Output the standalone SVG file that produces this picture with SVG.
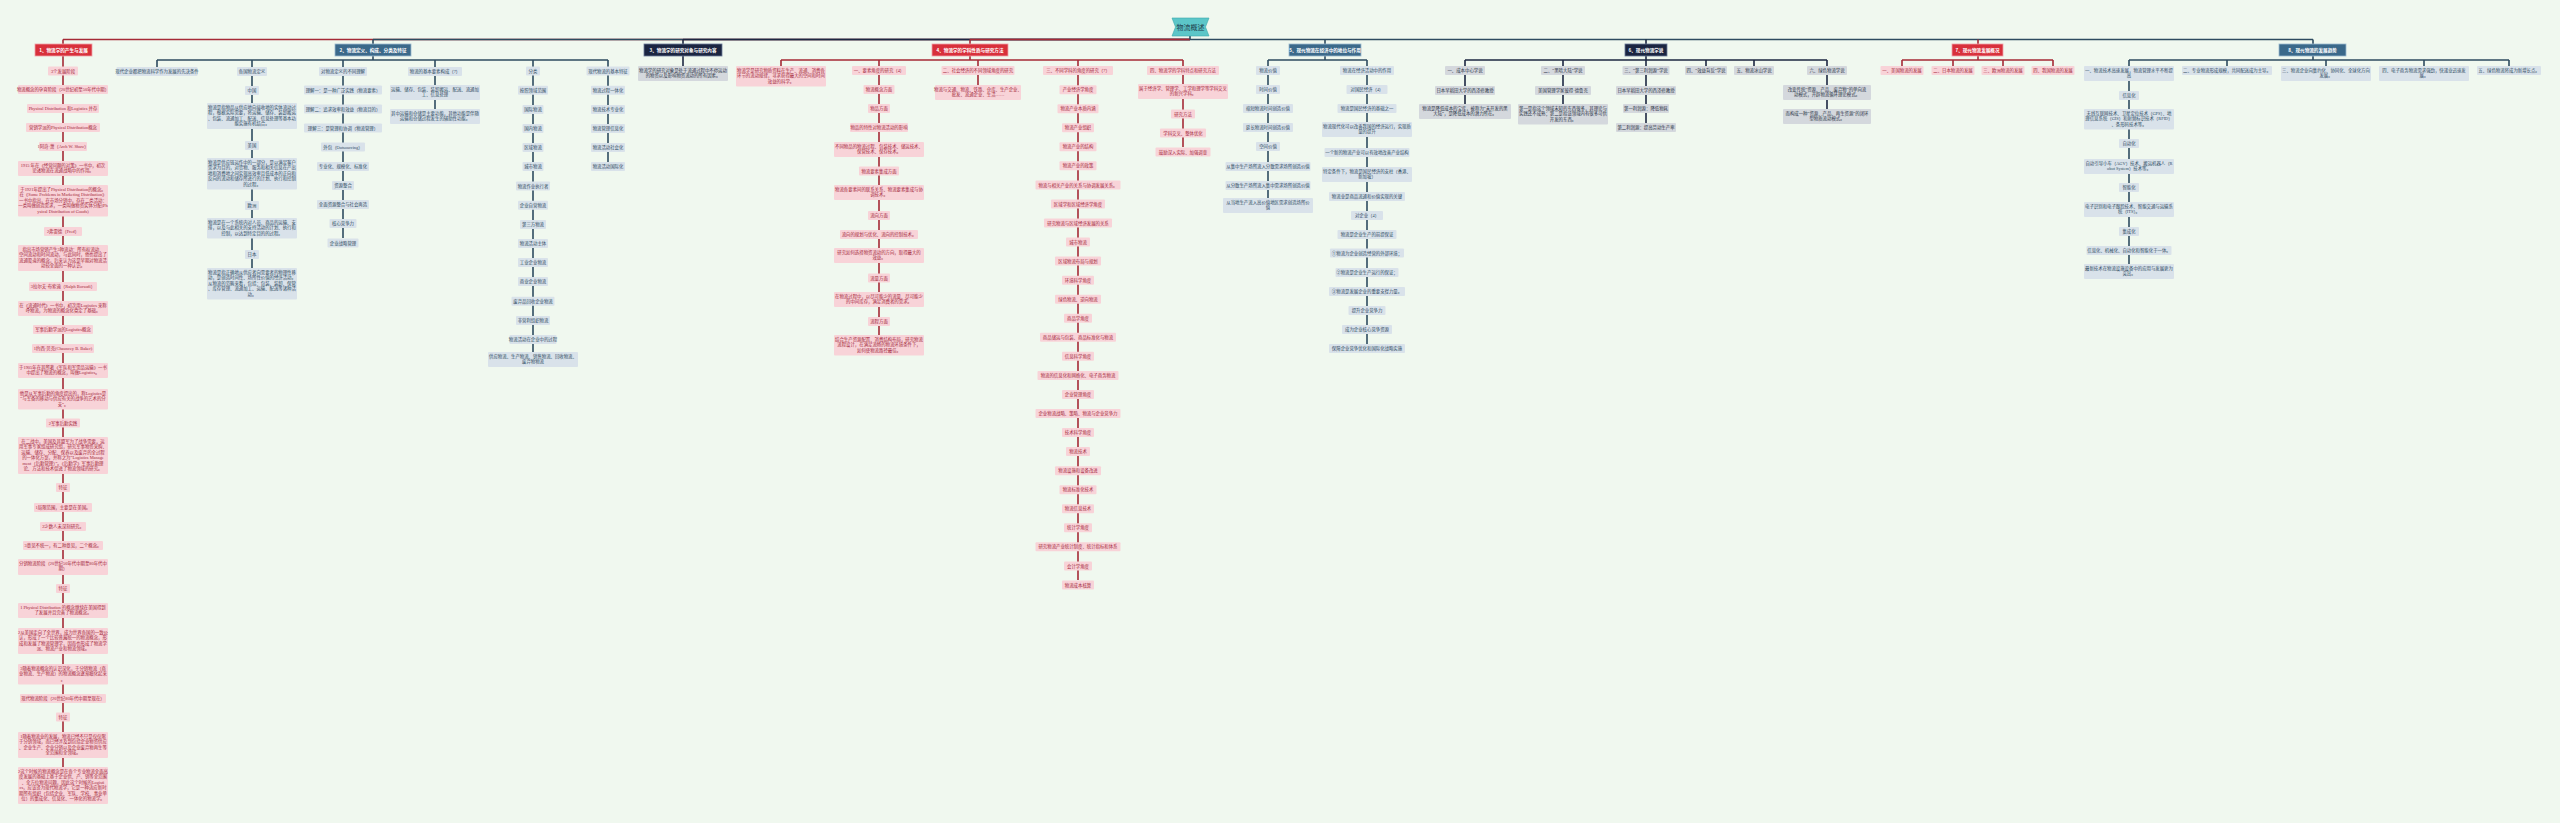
<svg xmlns="http://www.w3.org/2000/svg" width="2560" height="823" viewBox="0 0 2560 823">
<style>
.n text{font-family:"Liberation Serif","Noto Sans CJK SC",serif;font-size:4.4px;text-anchor:middle}
.n rect{rx:1}
.p rect{fill:#f8d3d8}.p text{fill:#a3273a}
.s rect{fill:#d9e2ea}.s text{fill:#2d4a5f}
.g rect{fill:#d4d8dd}.g text{fill:#2a3345}
.h text{fill:#fff;font-weight:bold;font-size:4.6px;font-family:"Noto Sans CJK SC",sans-serif;text-anchor:middle}
.h rect{stroke-width:.8}
.hr rect{fill:#d8303b;stroke:#f0a0a8}
.hs rect{fill:#3b698a;stroke:#9cbad0}
.hn rect{fill:#1b2541;stroke:#6b7a99}
.c path{fill:none;stroke-width:1.6}
.cr{stroke:#a52a36}.cs{stroke:#2e4b60}.cn{stroke:#1d2742}
</style>
<rect width="2560" height="823" fill="#f0f8ef"/>
<g id="connectors" class="c">
<path class="cr" d="M63 39.5H1190"/>
<path class="cs" d="M373 39.5H1190"/>
<path class="cn" d="M683 39.5H1190"/>
<path class="cr" d="M970 39.5H1190"/>
<path class="cs" d="M1190 39.5H2313"/>
<path class="cs" d="M1190 36V39.5"/>
<path class="cr" d="M63 39.5V770M970 39.5V60M781 60H1183M781 60V66M879 60V335M978 60V85M1078 60V580M1183 60V147"/>
<path class="cs" d="M373 39.5V60M157 60H608M157 60V67M252 60V268M343 60V238M435 60V109M533 60V352M608 60V162"/>
<path class="cn" d="M683 39.5V66"/>
<path class="cs" d="M1325 39.5V60M1268 60H1367M1268 60V198M1367 60V344"/>
<path class="cn" d="M1646 39.5V123M1465 60H1827M1465 60V104M1563 60V104M1706 60V66M1754 60V66M1827 60V109"/>
<path class="cr" d="M1978 39.5V60M1902 60H2053M1902 60V66M1953 60V66M2003 60V66M2053 60V66"/>
<path class="cs" d="M2313 39.5V60M2129 60H2509M2129 60V264M2227 60V66M2326 60V66M2424 60V66M2509 60V66"/>
</g>
<g id="root"><polygon points="1172,18 1209,18 1205.5,27 1209,36 1172,36 1175.5,27" fill="#5cc6c8" stroke="#3aa9ab" stroke-width=".6"/><text x="1190.5" y="29.6" font-family="Noto Sans CJK SC,sans-serif" font-size="7" fill="#1e3a4a" text-anchor="middle">物流概述</text></g>

<g id="b1" class="h hr"><rect x="35" y="44" width="57" height="12"/><text x="63.5" y="51.7">1、物流学的产生与发展</text></g>
<g id="b1n1" class="n p"><rect x="48" y="66.5" width="30" height="9"/><text x="63" y="72.6">3个发展阶段</text></g>
<g id="b1n2" class="n p"><rect x="18" y="85" width="90" height="9"/><text x="63" y="91.1">物流概念的孕育阶段（20世纪初至50年代中期）</text></g>
<g id="b1n3" class="n p"><rect x="27" y="104" width="72" height="9"/><text x="63" y="110.1">Physical Distribution 和Logistics 并存</text></g>
<g id="b1n4" class="n p"><rect x="26" y="123" width="74" height="9"/><text x="63" y="129.1">营销学派的Physical Distribution概念</text></g>
<g id="b1n5" class="n p"><rect x="39" y="142" width="48" height="9"/><text x="63" y="148.1">1阿奇·萧（Arch W. Shaw）</text></g>
<g id="b1n6" class="n p"><rect x="18" y="161" width="90" height="15"/><text x="63" y="166.9">1915 年在《经营问题的对策》一书中，初次<tspan x="63" dy="5.5">论述物流在流通战略中的作用。</tspan></text></g>
<g id="b1n7" class="n p"><rect x="18" y="185" width="90" height="31.5"/><text x="63" y="190.9">于1921年提出了Physical Distribution的概念。<tspan x="63" dy="5.5">在《Some Problems in Marketing Distribution》</tspan><tspan x="63" dy="5.5">一书中指出，在市场分销中，存在二类活动：</tspan><tspan x="63" dy="5.5">一类叫做创造需求，一类叫做物资实体分配(Ph</tspan><tspan x="63" dy="5.5">ysical Distribution of Goods)</tspan></text></g>
<g id="b1n8" class="n p"><rect x="44" y="227" width="38" height="9"/><text x="63" y="233.1">2弗雷德（Fred）</text></g>
<g id="b1n9" class="n p"><rect x="18" y="245" width="90" height="26"/><text x="63" y="250.9">指出市场营销产生3种流动：所有权流动、<tspan x="63" dy="5.5">空间流动和时间流动，与此同时，他也提出了</tspan><tspan x="63" dy="5.5">流通渠道的概念，后来认为这是早期对物流活</tspan><tspan x="63" dy="5.5">动较全面的一种认识。</tspan></text></g>
<g id="b1n10" class="n p"><rect x="29" y="282" width="68" height="9"/><text x="63" y="288.1">3拉尔夫·布索迪（Ralph Borsodi）</text></g>
<g id="b1n11" class="n p"><rect x="18" y="301" width="90" height="15"/><text x="63" y="306.9">在《流通时代》一书中，初次用Logistics 来称<tspan x="63" dy="5.5">呼物流，为物流的概念化奠定了基础。</tspan></text></g>
<g id="b1n12" class="n p"><rect x="33" y="325" width="60" height="9"/><text x="63" y="331.1">军事后勤学派的Logistics概念</text></g>
<g id="b1n13" class="n p"><rect x="32" y="344" width="62" height="9"/><text x="63" y="350.1">1约西·贝克(Chauncey B. Baker)</text></g>
<g id="b1n14" class="n p"><rect x="18" y="363" width="90" height="15"/><text x="63" y="368.9">于1905年在其所著《军队和军需品运输》一书<tspan x="63" dy="5.5">中提出了物流的概念，叫做Logistics。</tspan></text></g>
<g id="b1n15" class="n p"><rect x="18" y="389" width="90" height="20.5"/><text x="63" y="394.9">他是从军事后勤的角度提出的，称Logistics是<tspan x="63" dy="5.5">“与军备的移动与供应有关的战争的艺术的分</tspan><tspan x="63" dy="5.5">支”。</tspan></text></g>
<g id="b1n16" class="n p"><rect x="46" y="418.5" width="34" height="9"/><text x="63" y="424.6">2军事后勤实践</text></g>
<g id="b1n17" class="n p"><rect x="18" y="437" width="90" height="37"/><text x="63" y="442.9">在二战中，美国及其盟军为了战争需要，运<tspan x="63" dy="5.5">用军事专家组成研究组，研究军事物资采购、</tspan><tspan x="63" dy="5.5">运输、储存、分配、保养以及废弃的全过程</tspan><tspan x="63" dy="5.5">的一体化方案，并称之为“Logistics Manage</tspan><tspan x="63" dy="5.5">ment（后勤管理）”。《后勤学》军事后勤理</tspan><tspan x="63" dy="5.5">论、方法和技术促进了物流领域的研究。</tspan></text></g>
<g id="b1n18" class="n p"><rect x="56" y="483" width="14" height="9"/><text x="63" y="489.1">特征</text></g>
<g id="b1n19" class="n p"><rect x="34" y="503" width="58" height="9"/><text x="63" y="509.1">1局限范围，主要是在美国。</text></g>
<g id="b1n20" class="n p"><rect x="40" y="522" width="46" height="9"/><text x="63" y="528.1">2少数人未深刻研究。</text></g>
<g id="b1n21" class="n p"><rect x="23" y="541" width="80" height="9"/><text x="63" y="547.1">3意见不统一，有二种意见，二个概念。</text></g>
<g id="b1n22" class="n p"><rect x="18" y="559" width="90" height="16"/><text x="63" y="564.9">分销物流阶段（20世纪50年代中期至80年代中<tspan x="63" dy="5.5">期）</tspan></text></g>
<g id="b1n23" class="n p"><rect x="56" y="584" width="14" height="9"/><text x="63" y="590.1">特征</text></g>
<g id="b1n24" class="n p"><rect x="18" y="603" width="90" height="15"/><text x="63" y="608.9">1 Physical Distribution 的概念继续在美国得到<tspan x="63" dy="5.5">了发展并且完善了物流概念。</tspan></text></g>
<g id="b1n25" class="n p"><rect x="18" y="628" width="90" height="26"/><text x="63" y="633.9">2从美国走向了全世界，成为世界各国的一致公<tspan x="63" dy="5.5">认，形成了一个比较普遍统一的物流概念，形</tspan><tspan x="63" dy="5.5">成和发展了物流管理学，因而也形成了物流学</tspan><tspan x="63" dy="5.5">派、物流产业和物流领域。</tspan></text></g>
<g id="b1n26" class="n p"><rect x="18" y="664" width="90" height="20.5"/><text x="63" y="669.9">3随着物流概念的认识深化，于分销物流（商<tspan x="63" dy="5.5">业物流、生产物流）的物流概念逐渐细化起来</tspan><tspan x="63" dy="5.5">。</tspan></text></g>
<g id="b1n27" class="n p"><rect x="20" y="694" width="86" height="9"/><text x="63" y="700.1">现代物流阶段（20世纪80年代中期至现在）</text></g>
<g id="b1n28" class="n p"><rect x="56" y="712.5" width="14" height="9"/><text x="63" y="718.6">特征</text></g>
<g id="b1n29" class="n p"><rect x="18" y="732" width="90" height="26"/><text x="63" y="737.9">1随着物流业的发展，物流已经不只是仅仅限<tspan x="63" dy="5.5">于分销领域，而已经涉及到包括企业物资供应</tspan><tspan x="63" dy="5.5">、企业生产、企业分销以及企业废弃物再生等</tspan><tspan x="63" dy="5.5">全范围和全领域。</tspan></text></g>
<g id="b1n30" class="n p"><rect x="18" y="767" width="90" height="37"/><text x="63" y="772.9">2这个时候的物流概念是在各个专业物流全面高<tspan x="63" dy="5.5">度发展的基础上基于企业供、产、销等全范围</tspan><tspan x="63" dy="5.5">、全方位物流问题，因此这个时候的Logisti</tspan><tspan x="63" dy="5.5">cs，应该译为现代物流学，它是一种适应新时</tspan><tspan x="63" dy="5.5">期所有组织（包括企业、军队、学校、事业单</tspan><tspan x="63" dy="5.5">位）的集成化、信息化、一体化的物流学。</tspan></text></g>

<g id="b2" class="h hs"><rect x="335" y="44" width="76" height="12"/><text x="373" y="51.7">2、物流定义、构成、分类及特征</text></g>
<g id="b2a" class="n s"><rect x="116.5" y="67" width="81" height="9"/><text x="157" y="73.1">现代企业都把物流科学作为发展的先决条件</text></g>
<g id="b2b" class="n s"><rect x="237" y="67" width="30" height="9"/><text x="252" y="73.1">各国物流定义</text></g>
<g id="b2b1" class="n s"><rect x="245" y="86" width="14" height="9"/><text x="252" y="92.1">中国</text></g>
<g id="b2b2" class="n s"><rect x="207" y="103" width="90" height="26"/><text x="252" y="108.9">物流是指物品从供应地向接收地的实体流动过<tspan x="252" dy="5.5">程，根据实际需要，将运输、储存、装卸搬运</tspan><tspan x="252" dy="5.5">、包装、流通加工、配送、信息处理等基本功</tspan><tspan x="252" dy="5.5">能实施有机结合。</tspan></text></g>
<g id="b2b3" class="n s"><rect x="245" y="141" width="14" height="9"/><text x="252" y="147.1">美国</text></g>
<g id="b2b4" class="n s"><rect x="207" y="158" width="90" height="31.5"/><text x="252" y="163.9">物流是供应链运作中的一部分，是以满足客户<tspan x="252" dy="5.5">需求为目的，对货物、服务和相关信息在产出</tspan><tspan x="252" dy="5.5">地和消费地之间实现高效率且低成本的正向和</tspan><tspan x="252" dy="5.5">反向的流动和储存所进行的计划、执行和控制</tspan><tspan x="252" dy="5.5">的过程。</tspan></text></g>
<g id="b2b5" class="n s"><rect x="245" y="201" width="14" height="9"/><text x="252" y="207.1">欧洲</text></g>
<g id="b2b6" class="n s"><rect x="207" y="218" width="90" height="20.5"/><text x="252" y="223.9">物流是在一个系统内对人员、商品的运输、安<tspan x="252" dy="5.5">排，以及与此相关的支持活动的计划、执行和</tspan><tspan x="252" dy="5.5">控制，以达到特定目的的过程。</tspan></text></g>
<g id="b2b7" class="n s"><rect x="245" y="250" width="14" height="9"/><text x="252" y="256.1">日本</text></g>
<g id="b2b8" class="n s"><rect x="207" y="268" width="90" height="31.5"/><text x="252" y="273.9">物流是指正确地从供应者向需要者的物理性移<tspan x="252" dy="5.5">动，是创造时间性、场所性价值的经济活动。</tspan><tspan x="252" dy="5.5">从物流的范畴来看，包括：包装、装卸、保管</tspan><tspan x="252" dy="5.5">、库存管理、流通加工、运输、配送等诸种活</tspan><tspan x="252" dy="5.5">动。</tspan></text></g>
<g id="b2c" class="n s"><rect x="319" y="67" width="48" height="9"/><text x="343" y="73.1">对物流定义的不同理解</text></g>
<g id="b2c1" class="n s"><rect x="304" y="85.5" width="78" height="9"/><text x="343" y="91.6">理解一：是一种广泛实践（物流要素）</text></g>
<g id="b2c2" class="n s"><rect x="304" y="104.5" width="78" height="9"/><text x="343" y="110.6">理解二：追求效率和效益（物流目的）</text></g>
<g id="b2c3" class="n s"><rect x="304" y="123.5" width="78" height="9"/><text x="343" y="129.6">理解三：是管理和协调（物流管理）</text></g>
<g id="b2c4" class="n s"><rect x="321" y="142.5" width="44" height="9"/><text x="343" y="148.6">外包（Outsourcing）</text></g>
<g id="b2c5" class="n s"><rect x="317" y="162" width="52" height="9"/><text x="343" y="168.1">专业化、规模化、标准化</text></g>
<g id="b2c6" class="n s"><rect x="332" y="181" width="22" height="9"/><text x="343" y="187.1">资源整合</text></g>
<g id="b2c7" class="n s"><rect x="317" y="200" width="52" height="9"/><text x="343" y="206.1">全面资源整合与社会再造</text></g>
<g id="b2c8" class="n s"><rect x="329.5" y="219" width="27" height="9"/><text x="343" y="225.1">核心竞争力</text></g>
<g id="b2c9" class="n s"><rect x="327.5" y="238.5" width="31" height="9"/><text x="343" y="244.6">企业战略管理</text></g>
<g id="b2d" class="n s"><rect x="408" y="67" width="54" height="9"/><text x="435" y="73.1">物流的基本要素构成（7）</text></g>
<g id="b2d1" class="n s"><rect x="390" y="85" width="90" height="15"/><text x="435" y="90.9">运输、储存、包装、装卸搬运、配送、流通加<tspan x="435" dy="5.5">工、信息处理</tspan></text></g>
<g id="b2d2" class="n s"><rect x="390" y="109" width="90" height="15"/><text x="435" y="114.9">其中运输和仓储是主要功能，其他功能是伴随<tspan x="435" dy="5.5">运输和仓储过程发生的辅助性功能。</tspan></text></g>
<g id="b2e" class="n s"><rect x="526" y="66.5" width="14" height="9"/><text x="533" y="72.6">分类</text></g>
<g id="b2e1" class="n s"><rect x="518" y="85.7" width="30" height="9"/><text x="533" y="91.8">按照领域范围</text></g>
<g id="b2e2" class="n s"><rect x="522.5" y="105" width="21" height="9"/><text x="533" y="111.1">国际物流</text></g>
<g id="b2e3" class="n s"><rect x="522.5" y="124" width="21" height="9"/><text x="533" y="130.1">国内物流</text></g>
<g id="b2e4" class="n s"><rect x="522.5" y="143" width="21" height="9"/><text x="533" y="149.1">区域物流</text></g>
<g id="b2e5" class="n s"><rect x="522.5" y="162" width="21" height="9"/><text x="533" y="168.1">城市物流</text></g>
<g id="b2e6" class="n s"><rect x="516" y="181.5" width="34" height="9"/><text x="533" y="187.6">物流作业执行者</text></g>
<g id="b2e7" class="n s"><rect x="518" y="200.7" width="30" height="9"/><text x="533" y="206.8">企业自营物流</text></g>
<g id="b2e8" class="n s"><rect x="520" y="220" width="26" height="9"/><text x="533" y="226.1">第三方物流</text></g>
<g id="b2e9" class="n s"><rect x="518" y="239" width="30" height="9"/><text x="533" y="245.1">物流活动主体</text></g>
<g id="b2e10" class="n s"><rect x="518" y="258" width="30" height="9"/><text x="533" y="264.1">工业企业物流</text></g>
<g id="b2e11" class="n s"><rect x="518" y="277" width="30" height="9"/><text x="533" y="283.1">商业企业物流</text></g>
<g id="b2e12" class="n s"><rect x="511.5" y="296.7" width="43" height="9"/><text x="533" y="302.8">废弃品回收企业物流</text></g>
<g id="b2e13" class="n s"><rect x="516" y="316" width="34" height="9"/><text x="533" y="322.1">非营利组织物流</text></g>
<g id="b2e14" class="n s"><rect x="509.5" y="335" width="47" height="9"/><text x="533" y="341.1">物流活动在企业中的过程</text></g>
<g id="b2e15" class="n s"><rect x="488" y="352" width="90" height="15"/><text x="533" y="357.9">供应物流、生产物流、销售物流、回收物流、<tspan x="533" dy="5.5">废弃物物流</tspan></text></g>
<g id="b2f" class="n s"><rect x="586.5" y="66.5" width="43" height="9"/><text x="608" y="72.6">现代物流的基本特征</text></g>
<g id="b2f1" class="n s"><rect x="591" y="85.7" width="34" height="9"/><text x="608" y="91.8">物流过程一体化</text></g>
<g id="b2f2" class="n s"><rect x="591" y="105" width="34" height="9"/><text x="608" y="111.1">物流技术专业化</text></g>
<g id="b2f3" class="n s"><rect x="591" y="124" width="34" height="9"/><text x="608" y="130.1">物流管理信息化</text></g>
<g id="b2f4" class="n s"><rect x="591" y="143" width="34" height="9"/><text x="608" y="149.1">物流活动社会化</text></g>
<g id="b2f5" class="n s"><rect x="591" y="162" width="34" height="9"/><text x="608" y="168.1">物流活动国际化</text></g>

<g id="b3" class="h hn"><rect x="644" y="44" width="78" height="12"/><text x="683" y="51.7">3、物流学的研究对象与研究内容</text></g>
<g id="b3a" class="n g"><rect x="638" y="66" width="90" height="15"/><text x="683" y="71.9">物流学的研究对象是处于流通过程中不停运动<tspan x="683" dy="5.5">的物资以及影响物资流动的所有因素。</tspan></text></g>

<g id="b4" class="h hr"><rect x="932" y="44" width="76" height="12"/><text x="970" y="51.7">4、物流学的学科性质与研究方法</text></g>
<g id="b4a" class="n p"><rect x="736" y="66" width="90" height="20.5"/><text x="781" y="71.9">物流学是研究物质资料在生产、流通、消费各<tspan x="781" dy="5.5">环节的流动规律，寻求获得最大的空间和时间</tspan><tspan x="781" dy="5.5">效益的科学。</tspan></text></g>
<g id="b4b" class="n p"><rect x="852" y="66" width="54" height="9"/><text x="879" y="72.1">一、要素角度的研究（4）</text></g>
<g id="b4b1" class="n p"><rect x="863.5" y="85" width="31" height="9"/><text x="879" y="91.1">物流概念方面</text></g>
<g id="b4b2" class="n p"><rect x="868" y="104" width="22" height="9"/><text x="879" y="110.1">物品方面</text></g>
<g id="b4b3" class="n p"><rect x="850" y="123" width="58" height="9"/><text x="879" y="129.1">物品的特性对物流活动的影响</text></g>
<g id="b4b4" class="n p"><rect x="834" y="142" width="90" height="15"/><text x="879" y="147.9">不同物品的物流过程、包装技术、储运技术、<tspan x="879" dy="5.5">保管技术、保存技术。</tspan></text></g>
<g id="b4b5" class="n p"><rect x="859" y="166.5" width="40" height="9"/><text x="879" y="172.6">物流要素集成方面</text></g>
<g id="b4b6" class="n p"><rect x="834" y="185" width="90" height="15"/><text x="879" y="190.9">物流各要素间的联系关系、物流要素集成与协<tspan x="879" dy="5.5">调技术。</tspan></text></g>
<g id="b4b7" class="n p"><rect x="868" y="211" width="22" height="9"/><text x="879" y="217.1">流向方面</text></g>
<g id="b4b8" class="n p"><rect x="840" y="230" width="78" height="9"/><text x="879" y="236.1">流向的规划与优化、流向的控制技术。</text></g>
<g id="b4b9" class="n p"><rect x="834" y="248" width="90" height="15"/><text x="879" y="253.9">研究如何选择物资流动的方向，取得最大的<tspan x="879" dy="5.5">效益。</tspan></text></g>
<g id="b4b10" class="n p"><rect x="868" y="273.5" width="22" height="9"/><text x="879" y="279.6">流量方面</text></g>
<g id="b4b11" class="n p"><rect x="834" y="292" width="90" height="15"/><text x="879" y="297.9">在物流过程中，以尽可能少的流量、尽可能少<tspan x="879" dy="5.5">的中间库存，满足消费者的需求。</tspan></text></g>
<g id="b4b12" class="n p"><rect x="868" y="317" width="22" height="9"/><text x="879" y="323.1">流程方面</text></g>
<g id="b4b13" class="n p"><rect x="834" y="335" width="90" height="20.5"/><text x="879" y="340.9">结合生产资源配置、消费结构布局，研究物流<tspan x="879" dy="5.5">流程设计，在满足流畅的物流环境条件下，</tspan><tspan x="879" dy="5.5">如何使物流路径最佳。</tspan></text></g>
<g id="b4c" class="n p"><rect x="941.5" y="66" width="73" height="9"/><text x="978" y="72.1">二、社会经济的不同领域角度的研究</text></g>
<g id="b4c1" class="n p"><rect x="935" y="85" width="86" height="15"/><text x="978" y="90.9">物流与交通、物流、铁路、仓库、生产企业、<tspan x="978" dy="5.5">批发、流通企业、生活……</tspan></text></g>
<g id="b4d" class="n p"><rect x="1043" y="66.1" width="70" height="9"/><text x="1078" y="72.2">三、不同学科的角度的研究（7）</text></g>
<g id="b4d1" class="n p"><rect x="1059.5" y="85.15" width="37" height="9"/><text x="1078" y="91.25">产业经济学角度</text></g>
<g id="b4d2" class="n p"><rect x="1057.5" y="104.2" width="41" height="9"/><text x="1078" y="110.3">物流产业本质内涵</text></g>
<g id="b4d3" class="n p"><rect x="1062" y="123.25" width="32" height="9"/><text x="1078" y="129.35">物流产业组织</text></g>
<g id="b4d4" class="n p"><rect x="1059.5" y="142.3" width="37" height="9"/><text x="1078" y="148.4">物流产业的结构</text></g>
<g id="b4d5" class="n p"><rect x="1059.5" y="161.35" width="37" height="9"/><text x="1078" y="167.45">物流产业的政策</text></g>
<g id="b4d6" class="n p"><rect x="1035.5" y="180.4" width="85" height="9"/><text x="1078" y="186.5">物流与相关产业的关系与协调发展关系。</text></g>
<g id="b4d7" class="n p"><rect x="1051" y="199.45" width="54" height="9"/><text x="1078" y="205.55">区域学和区域经济学角度</text></g>
<g id="b4d8" class="n p"><rect x="1044" y="218.5" width="68" height="9"/><text x="1078" y="224.6">研究物流与区域经济发展的关系</text></g>
<g id="b4d9" class="n p"><rect x="1066" y="237.55" width="24" height="9"/><text x="1078" y="243.65">城市物流</text></g>
<g id="b4d10" class="n p"><rect x="1055" y="256.6" width="46" height="9"/><text x="1078" y="262.7">区域物流布局与规划</text></g>
<g id="b4d11" class="n p"><rect x="1062" y="275.65" width="32" height="9"/><text x="1078" y="281.75">环境科学角度</text></g>
<g id="b4d12" class="n p"><rect x="1055" y="294.7" width="46" height="9"/><text x="1078" y="300.8">绿色物流、逆向物流</text></g>
<g id="b4d13" class="n p"><rect x="1064" y="313.75" width="28" height="9"/><text x="1078" y="319.85">商品学角度</text></g>
<g id="b4d14" class="n p"><rect x="1040" y="332.8" width="76" height="9"/><text x="1078" y="338.9">商品储运与包装、商品标准化与物流</text></g>
<g id="b4d15" class="n p"><rect x="1062" y="351.85" width="32" height="9"/><text x="1078" y="357.95">信息科学角度</text></g>
<g id="b4d16" class="n p"><rect x="1037.5" y="370.9" width="81" height="9"/><text x="1078" y="377">物流的信息化和网络化、电子商务物流</text></g>
<g id="b4d17" class="n p"><rect x="1062" y="389.95" width="32" height="9"/><text x="1078" y="396.05">企业管理角度</text></g>
<g id="b4d18" class="n p"><rect x="1035.5" y="409" width="85" height="9"/><text x="1078" y="415.1">企业物流战略、策略、物流与企业竞争力</text></g>
<g id="b4d19" class="n p"><rect x="1062" y="428.05" width="32" height="9"/><text x="1078" y="434.15">技术科学角度</text></g>
<g id="b4d20" class="n p"><rect x="1066" y="447.1" width="24" height="9"/><text x="1078" y="453.2">物流技术</text></g>
<g id="b4d21" class="n p"><rect x="1055" y="466.15" width="46" height="9"/><text x="1078" y="472.25">物流设施和设备改进</text></g>
<g id="b4d22" class="n p"><rect x="1059.5" y="485.2" width="37" height="9"/><text x="1078" y="491.3">物流标准化技术</text></g>
<g id="b4d23" class="n p"><rect x="1062" y="504.25" width="32" height="9"/><text x="1078" y="510.35">物流信息技术</text></g>
<g id="b4d24" class="n p"><rect x="1064" y="523.3" width="28" height="9"/><text x="1078" y="529.4">统计学角度</text></g>
<g id="b4d25" class="n p"><rect x="1035.5" y="542.35" width="85" height="9"/><text x="1078" y="548.45">研究物流产业统计制度、统计指标和体系</text></g>
<g id="b4d26" class="n p"><rect x="1064" y="561.4" width="28" height="9"/><text x="1078" y="567.5">会计学角度</text></g>
<g id="b4d27" class="n p"><rect x="1062" y="580.45" width="32" height="9"/><text x="1078" y="586.55">物流成本核算</text></g>
<g id="b4e" class="n p"><rect x="1147" y="66.1" width="72" height="9"/><text x="1183" y="72.2">四、物流学的学科特点和研究方法</text></g>
<g id="b4e1" class="n p"><rect x="1138" y="84" width="90" height="15"/><text x="1183" y="89.9">属于经济学、管理学、工学和理学等学科交叉<tspan x="1183" dy="5.5">的新兴学科。</tspan></text></g>
<g id="b4e2" class="n p"><rect x="1171" y="109.5" width="24" height="9"/><text x="1183" y="115.6">研究方法</text></g>
<g id="b4e3" class="n p"><rect x="1160" y="128.5" width="46" height="9"/><text x="1183" y="134.6">学科交叉、整体优化</text></g>
<g id="b4e4" class="n p"><rect x="1155.5" y="147.5" width="55" height="9"/><text x="1183" y="153.6">鼓励深入实际、加强调查</text></g>

<g id="b5" class="h hs"><rect x="1289" y="44" width="72" height="12"/><text x="1325" y="51.7">5、现代物流在经济中的地位与作用</text></g>
<g id="b5a" class="n s"><rect x="1256" y="66" width="24" height="9"/><text x="1268" y="72.1">物流价值</text></g>
<g id="b5a1" class="n s"><rect x="1256" y="85" width="24" height="9"/><text x="1268" y="91.1">时间价值</text></g>
<g id="b5a2" class="n s"><rect x="1243" y="104" width="50" height="9"/><text x="1268" y="110.1">缩短物流时间创造价值</text></g>
<g id="b5a3" class="n s"><rect x="1243" y="123" width="50" height="9"/><text x="1268" y="129.1">延长物流时间创造价值</text></g>
<g id="b5a4" class="n s"><rect x="1256" y="142" width="24" height="9"/><text x="1268" y="148.1">空间价值</text></g>
<g id="b5a5" class="n s"><rect x="1225.5" y="162" width="85" height="9"/><text x="1268" y="168.1">从集中生产场所流入分散需求场所创造价值</text></g>
<g id="b5a6" class="n s"><rect x="1225.5" y="181" width="85" height="9"/><text x="1268" y="187.1">从分散生产场所流入集中需求场所创造价值</text></g>
<g id="b5a7" class="n s"><rect x="1223" y="198" width="90" height="15"/><text x="1268" y="203.9">从当地生产流入高价值地区需求创造场所价<tspan x="1268" dy="5.5">值</tspan></text></g>
<g id="b5b" class="n s"><rect x="1340" y="66" width="54" height="9"/><text x="1367" y="72.1">物流在经济活动中的作用</text></g>
<g id="b5b1" class="n s"><rect x="1346.5" y="85" width="41" height="9"/><text x="1367" y="91.1">对国民经济（4）</text></g>
<g id="b5b2" class="n s"><rect x="1337.5" y="104" width="59" height="9"/><text x="1367" y="110.1">物流是国民经济的基础之一</text></g>
<g id="b5b3" class="n s"><rect x="1322" y="122" width="90" height="15"/><text x="1367" y="127.9">物流现代化可以改善我国的经济运行，实现质<tspan x="1367" dy="5.5">量的提升</tspan></text></g>
<g id="b5b4" class="n s"><rect x="1324.5" y="148" width="85" height="9"/><text x="1367" y="154.1">一个新的物流产业可以有效地改善产业结构</text></g>
<g id="b5b5" class="n s"><rect x="1322" y="167" width="90" height="15"/><text x="1367" y="172.9">特定条件下，物流是国民经济的支柱（香港、<tspan x="1367" dy="5.5">新加坡）</tspan></text></g>
<g id="b5b6" class="n s"><rect x="1329" y="192" width="76" height="9"/><text x="1367" y="198.1">物流业是商品流通和价值实现的关键</text></g>
<g id="b5b7" class="n s"><rect x="1351" y="211" width="32" height="9"/><text x="1367" y="217.1">对企业（4）</text></g>
<g id="b5b8" class="n s"><rect x="1337.5" y="230" width="59" height="9"/><text x="1367" y="236.1">物流是企业生产的前提保证</text></g>
<g id="b5b9" class="n s"><rect x="1330" y="248.5" width="74" height="9"/><text x="1367" y="254.6">①物流为企业创造经营的外部环境；</text></g>
<g id="b5b10" class="n s"><rect x="1335.5" y="268" width="63" height="9"/><text x="1367" y="274.1">②物流是企业生产运行的保证；</text></g>
<g id="b5b11" class="n s"><rect x="1329" y="287" width="76" height="9"/><text x="1367" y="293.1">③物流是发展企业的重要支撑力量。</text></g>
<g id="b5b12" class="n s"><rect x="1348.5" y="306" width="37" height="9"/><text x="1367" y="312.1">提升企业竞争力</text></g>
<g id="b5b13" class="n s"><rect x="1342" y="325" width="50" height="9"/><text x="1367" y="331.1">成为企业核心竞争资源</text></g>
<g id="b5b14" class="n s"><rect x="1329" y="344" width="76" height="9"/><text x="1367" y="350.1">保障企业竞争优化和国际化战略实施</text></g>

<g id="b6" class="h hn"><rect x="1625" y="44" width="42" height="12"/><text x="1646" y="51.7">6、现代物流学说</text></g>
<g id="b6a" class="n g"><rect x="1445" y="66" width="40" height="9"/><text x="1465" y="72.1">一、成本中心学说</text></g>
<g id="b6a1" class="n g"><rect x="1435" y="86" width="60" height="9"/><text x="1465" y="92.1">日本早稻田大学的西泽修教授</text></g>
<g id="b6a2" class="n g"><rect x="1419" y="104" width="92" height="15"/><text x="1465" y="109.9">物流是降低成本的宝库，被称为“未开发的黑<tspan x="1465" dy="5.5">大陆”，是降低成本的潜力所在。</tspan></text></g>
<g id="b6b" class="n g"><rect x="1541" y="66" width="44" height="9"/><text x="1563" y="72.1">二、“黑暗大陆”学说</text></g>
<g id="b6b1" class="n g"><rect x="1535" y="86" width="56" height="9"/><text x="1563" y="92.1">美国管理学家彼得·德鲁克</text></g>
<g id="b6b2" class="n g"><rect x="1518" y="104" width="90" height="20.5"/><text x="1563" y="109.9">第一是指这个领域未知的东西很多，其理论与<tspan x="1563" dy="5.5">实践还不成熟；第二是指该领域内有很多可供</tspan><tspan x="1563" dy="5.5">开发的东西。</tspan></text></g>
<g id="b6c" class="n g"><rect x="1622.5" y="66" width="47" height="9"/><text x="1646" y="72.1">三、“第三利润源”学说</text></g>
<g id="b6c1" class="n g"><rect x="1616" y="86" width="60" height="9"/><text x="1646" y="92.1">日本早稻田大学的西泽修教授</text></g>
<g id="b6c2" class="n g"><rect x="1623" y="104" width="46" height="9"/><text x="1646" y="110.1">第一利润源：降低物耗</text></g>
<g id="b6c3" class="n g"><rect x="1616" y="123" width="60" height="9"/><text x="1646" y="129.1">第二利润源：提高劳动生产率</text></g>
<g id="b6d" class="n g"><rect x="1685" y="66" width="42" height="9"/><text x="1706" y="72.1">四、“效益背反”学说</text></g>
<g id="b6e" class="n g"><rect x="1734" y="66" width="40" height="9"/><text x="1754" y="72.1">五、物流冰山学说</text></g>
<g id="b6f" class="n g"><rect x="1807" y="66" width="40" height="9"/><text x="1827" y="72.1">六、绿色物流学说</text></g>
<g id="b6f1" class="n g"><rect x="1783" y="85" width="88" height="15"/><text x="1827" y="90.9">改变传统“资源、产品、废弃物”的单向流<tspan x="1827" dy="5.5">动模式，开辟物流循环理论模式。</tspan></text></g>
<g id="b6f2" class="n g"><rect x="1783" y="109" width="88" height="15"/><text x="1827" y="114.9">而构成一种“资源、产品、再生资源”的闭环<tspan x="1827" dy="5.5">型物质流动模式。</tspan></text></g>

<g id="b7" class="h hr"><rect x="1952" y="44" width="51" height="12"/><text x="1977.5" y="51.7">7、现代物流发展概况</text></g>
<g id="b7a" class="n p"><rect x="1880.5" y="66" width="43" height="9"/><text x="1902" y="72.1">一、美国物流的发展</text></g>
<g id="b7b" class="n p"><rect x="1931.5" y="66" width="43" height="9"/><text x="1953" y="72.1">二、日本物流的发展</text></g>
<g id="b7c" class="n p"><rect x="1981.5" y="66" width="43" height="9"/><text x="2003" y="72.1">三、欧洲物流的发展</text></g>
<g id="b7d" class="n p"><rect x="2031.5" y="66" width="43" height="9"/><text x="2053" y="72.1">四、我国物流的发展</text></g>

<g id="b8" class="h hs"><rect x="2279" y="44" width="67" height="12"/><text x="2312.5" y="51.7">8、现代物流的发展趋势</text></g>
<g id="b8a" class="n s"><rect x="2084" y="66" width="90" height="15"/><text x="2129" y="71.9">一、物流技术高速发展，物流管理水平不断提<tspan x="2129" dy="5.5">高</tspan></text></g>
<g id="b8a1" class="n s"><rect x="2119" y="91" width="20" height="9"/><text x="2129" y="97.1">信息化</text></g>
<g id="b8a2" class="n s"><rect x="2084" y="109" width="90" height="20.5"/><text x="2129" y="114.9">无线互联网技术、卫星定位技术（GPS）、地<tspan x="2129" dy="5.5">理信息系统（GIS）和射频标识技术（RFID）</tspan><tspan x="2129" dy="5.5">、条形码技术等。</tspan></text></g>
<g id="b8a3" class="n s"><rect x="2119" y="139" width="20" height="9"/><text x="2129" y="145.1">自动化</text></g>
<g id="b8a4" class="n s"><rect x="2084" y="159" width="90" height="15"/><text x="2129" y="164.9">自动引导小车（AGV）技术、搬运机器人（R<tspan x="2129" dy="5.5">obot System）技术等。</tspan></text></g>
<g id="b8a5" class="n s"><rect x="2119" y="183" width="20" height="9"/><text x="2129" y="189.1">智能化</text></g>
<g id="b8a6" class="n s"><rect x="2084" y="202" width="90" height="15"/><text x="2129" y="207.9">电子识别和电子跟踪技术、智能交通与运输系<tspan x="2129" dy="5.5">统（ITS）。</tspan></text></g>
<g id="b8a7" class="n s"><rect x="2119" y="227" width="20" height="9"/><text x="2129" y="233.1">集成化</text></g>
<g id="b8a8" class="n s"><rect x="2086.5" y="246" width="85" height="9"/><text x="2129" y="252.1">信息化、机械化、自动化和智能化于一体。</text></g>
<g id="b8a9" class="n s"><rect x="2084" y="264" width="90" height="15"/><text x="2129" y="269.9">最新技术在物流设施设备中的应用与发展更为<tspan x="2129" dy="5.5">突出。</tspan></text></g>
<g id="b8b" class="n s"><rect x="2182" y="66" width="90" height="9"/><text x="2227" y="72.1">二、专业物流形成规模，共同配送成为主导。</text></g>
<g id="b8c" class="n s"><rect x="2281" y="66" width="90" height="15"/><text x="2326" y="71.9">三、物流企业向集约化、协同化、全球化方向<tspan x="2326" dy="5.5">发展。</tspan></text></g>
<g id="b8d" class="n s"><rect x="2379" y="66" width="90" height="15"/><text x="2424" y="71.9">四、电子商务物流需求强劲，快递业迅速发<tspan x="2424" dy="5.5">展。</tspan></text></g>
<g id="b8e" class="n s"><rect x="2477" y="66" width="64" height="9"/><text x="2509" y="72.1">五、绿色物流将成为新增长点。</text></g>
</svg>
